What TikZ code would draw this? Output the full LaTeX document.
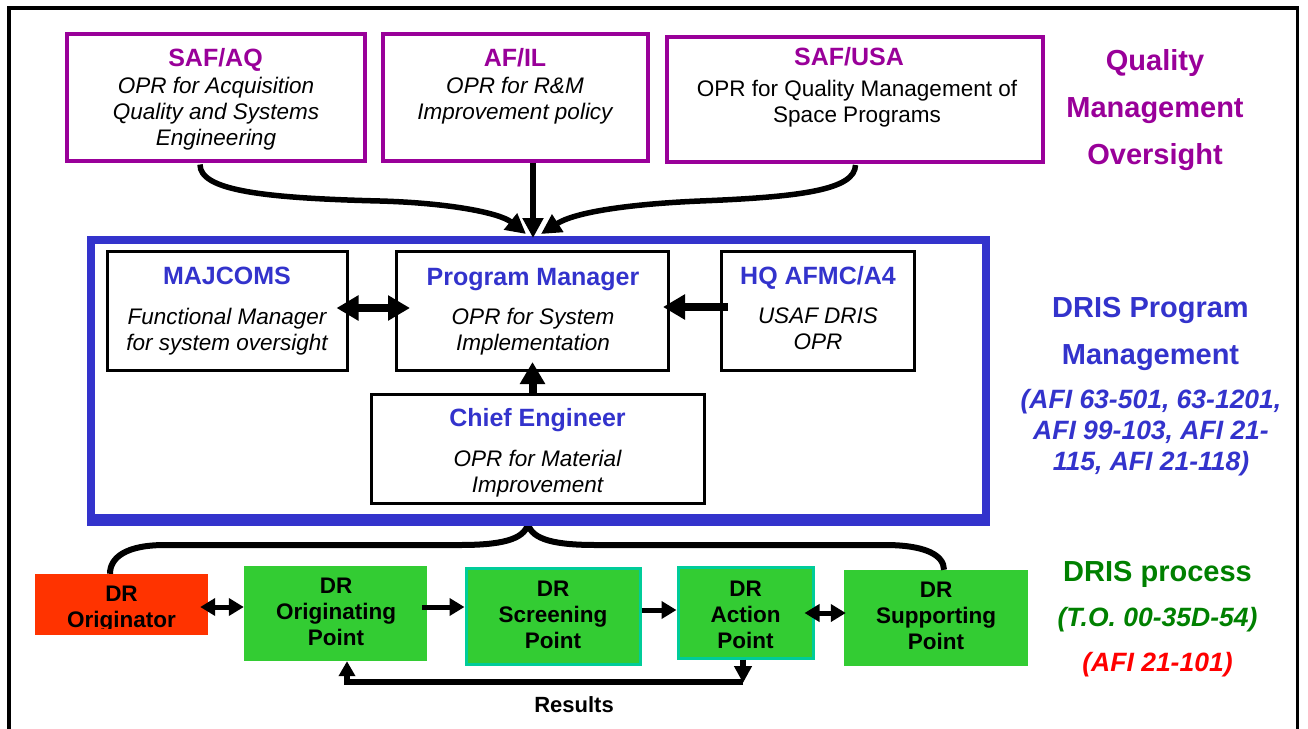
\documentclass[tikz,border=0pt]{standalone}
\usepackage{fontspec}
\setmainfont{Liberation Sans}
\usetikzlibrary{arrows.meta,calc}
\definecolor{qpurple}{HTML}{990099}
\definecolor{dblue}{HTML}{3333CC}
\definecolor{dgreen}{HTML}{008000}
\definecolor{dred}{HTML}{FF0000}
\definecolor{origfill}{HTML}{FF3300}
\definecolor{gfill}{HTML}{33CC33}
\definecolor{tealb}{HTML}{00CC99}
\begin{document}
\begin{tikzpicture}[x=1pt,y=-1pt,
  pbox/.style={draw=qpurple,line width=4pt,inner sep=0pt},
  kbox/.style={draw=black,line width=3pt,inner sep=0pt},
  gbox/.style={fill=gfill,inner sep=0pt},
  ttl/.style={font=\fontsize{25}{28}\selectfont\bfseries,inner sep=0pt,anchor=base},
  bodyit/.style={font=\fontsize{22.5}{26}\selectfont\itshape,align=center,inner sep=0pt,anchor=north},
  bodyrm/.style={font=\fontsize{22.5}{25.5}\selectfont,align=center,inner sep=0pt,anchor=north},
  dtxt/.style={font=\fontsize{22.5}{26}\selectfont\bfseries,align=center,inner sep=0pt,anchor=north},
  biglab/.style={font=\fontsize{29}{47}\selectfont\bfseries,align=center,inner sep=0pt,anchor=north},
  reflab/.style={font=\fontsize{26.5}{31}\selectfont\bfseries\itshape,align=center,inner sep=0pt,anchor=north},
  topar/.style={line width=5.5pt,-{Triangle[length=20pt,width=20pt]}},
  midar/.style={line width=8pt},
  bigtip/.tip={Triangle[length=22pt,width=24pt]},
  smtip/.tip={Triangle[length=15pt,width=17pt]},
  smar/.style={line width=5pt},
  bracep/.style={line width=6pt,line join=round}
]
\useasboundingbox (0,0) rectangle (1308,728);
\begin{scope}
  \clip (0,0) rectangle (1308,728);
  \draw[line width=3.7pt] (9,760) -- (9,8) -- (1297.5,8) -- (1297.5,760);
\end{scope}

% ---- top boxes
\node[pbox,minimum width=297.5pt,minimum height=127pt] (safaq) at (215.75,97.5) {};
\node[pbox,minimum width=264.6pt,minimum height=127pt] (afil) at (515.3,97.5) {};
\node[pbox,minimum width=376.6pt,minimum height=125pt] (safusa) at (855.1,99.5) {};
\node[ttl,text=qpurple] (safaqT) at (215.5,66.7) {SAF/AQ};
\node[bodyit] (safaqB) at (216,76.8) {OPR for Acquisition\\Quality and Systems\\Engineering};
\node[ttl,text=qpurple] (afilT) at (515,66.7) {AF/IL};
\node[bodyit] (afilB) at (515,76.8) {OPR for R\&M\\Improvement policy};
\node[ttl,text=qpurple] (safusaT) at (849,65) {SAF/USA};
\node[bodyrm] (safusaB) at (857,80) {OPR for Quality Management of\\Space Programs};

\node[biglab,text=qpurple] (qmo) at (1155,49.5) {Quality\\Management\\Oversight};

% ---- DRIS program management
\node[draw=dblue,line width=8pt,inner sep=0pt,minimum width=895pt,minimum height=278pt] (blue) at (538.5,379) {};
\node[kbox,minimum width=240pt,minimum height=119pt] (maj) at (227,311) {};
\node[kbox,minimum width=272pt,minimum height=119pt] (pm) at (532.5,311) {};
\node[kbox,minimum width=193pt,minimum height=119pt] (hq) at (817.5,311) {};
\node[kbox,minimum width=333pt,minimum height=109pt] (chief) at (537.5,448.5) {};
\node[ttl,text=dblue] (majT) at (227,284) {MAJCOMS};
\node[bodyit] (majB) at (227,307.5) {Functional Manager\\for system oversight};
\node[ttl,text=dblue] (pmT) at (533,285) {Program Manager};
\node[bodyit] (pmB) at (533,307.8) {OPR for System\\Implementation};
\node[ttl,text=dblue] (hqT) at (818,284) {HQ AFMC/A4};
\node[bodyit] (hqB) at (818,307.5) {USAF DRIS\\OPR};
\node[ttl,text=dblue] (chiefT) at (537.5,426) {Chief Engineer};
\node[bodyit] (chiefB) at (537.5,449.5) {OPR for Material\\Improvement};

\node[biglab,text=dblue] (dpm) at (1150.5,297) {DRIS Program\\Management};
\node[reflab,text=dblue] (dpmref) at (1151,388.7) {(AFI 63-501, 63-1201,\\AFI 99-103, AFI 21-\\115, AFI 21-118)};

% ---- DRIS process
\node[fill=origfill,inner sep=0pt,minimum width=173pt,minimum height=61pt] (orig) at (121.5,604.5) {};
\node[gbox,minimum width=183pt,minimum height=95pt] (opt) at (335.5,613.5) {};
\node[gbox,draw=tealb,line width=3pt,minimum width=174pt,minimum height=96pt] (scr) at (553,616) {};
\node[gbox,draw=tealb,line width=3pt,minimum width=135pt,minimum height=91pt] (act) at (745.5,612.5) {};
\node[gbox,minimum width=184pt,minimum height=96pt] (sup) at (936,618) {};
\begin{scope}
  \clip (35,574) rectangle (208,628);
  \node[dtxt] (origT) at (121.5,585.9) {DR\\Originator};
\end{scope}
\node[dtxt] (optT) at (336,577.9) {DR\\Originating\\Point};
\node[dtxt] (scrT) at (553,580.9) {DR\\Screening\\Point};
\node[dtxt] (actT) at (745.5,580.6) {DR\\Action\\Point};
\node[dtxt] (supT) at (936,582.2) {DR\\Supporting\\Point};
\node[font=\fontsize{22}{26}\selectfont\bfseries,inner sep=0pt,anchor=base] (res) at (574,712.7) {Results};

\node[font=\fontsize{29}{34}\selectfont\bfseries,text=dgreen,inner sep=0pt,anchor=base] (dp) at (1157.5,581) {DRIS process};
\node[font=\fontsize{26.5}{31}\selectfont\bfseries\itshape,text=dgreen,inner sep=0pt,anchor=base] (dpto) at (1157.5,626.7) {(T.O. 00-35D-54)};
\node[font=\fontsize{26.5}{31}\selectfont\bfseries\itshape,text=dred,inner sep=0pt,anchor=base] (dpafi) at (1157.5,671.7) {(AFI 21-101)};

% ---- connectors top
\coordinate (hub) at (533,238);
\draw[topar] ($(safaq.south)+(-15.75,1.5)$) .. controls (200,190) and (260,198) .. (380,201) .. controls (450,203) and (500,213) .. ($(hub)+(-7,-4)$);
\draw[topar] (afil.south -| hub) -- (hub);
\draw[topar] ($(safusa.south)+(0.4,1)$) .. controls (855,190) and (800,197) .. (700,201) .. controls (630,204) and (575,212) .. ($(hub)+(8,-4)$);

% ---- connectors middle
\draw[midar,bigtip-bigtip] ($(maj.east)+(-12,-3)$) -- ($(pm.west)+(15,-3)$);
\draw[midar,-bigtip] ($(hq.west)+(8,-4)$) -- ($(pm.east)+(-7,-4)$);
\draw[midar,-bigtip] ($(pm.south |- chief.north)+(0,3)$) -- ($(pm.south)+(0,-10)$);

% ---- brace from blue box to process
\coordinate (bc) at (528,524);
\draw[bracep] ($(orig.north)+(-11.5,0)$) .. controls (110,558) and (125,545) .. (165,545) -- (460,545)
   .. controls (500,545) and (524,540) .. (bc)
   .. controls (532,540) and (556,545) .. (596,545) -- (885,545)
   .. controls (925,545) and (944,555) .. ($(sup.north)+(8,0)$);
\draw[draw=dblue,line width=8pt] (blue.south west) -- (blue.south east);

% ---- connectors bottom
\draw[smar,smtip-smtip] ($(orig.east)+(-8,2.5)$) -- ($(orig.east -| opt.west)+(0,2.5)$);
\draw[smar,-smtip] ($(opt.east)+(-5,-6.5)$) -- ($(opt.east -| scr.west)+(0,-6.5)$);
\draw[smar,-smtip] ($(scr.east)+(0,-6)$) -- ($(scr.east -| act.west)+(0,-6)$);
\draw[smar,smtip-smtip] ($(act.east)+(-10,0.5)$) -- ($(act.east -| sup.west)+(2,0.5)$);
\coordinate (rr) at (743,682);
\coordinate (rl) at (347,682);
\draw[line width=5.5pt,-{Triangle[length=17pt,width=17pt]}] (act.south -| rr) -- ($(rr)+(0,1)$);
\draw[line width=5.5pt,-{Triangle[length=15pt,width=16pt]}] (rr) -- (rl) -- (rl |- opt.south);
\end{tikzpicture}
\end{document}
